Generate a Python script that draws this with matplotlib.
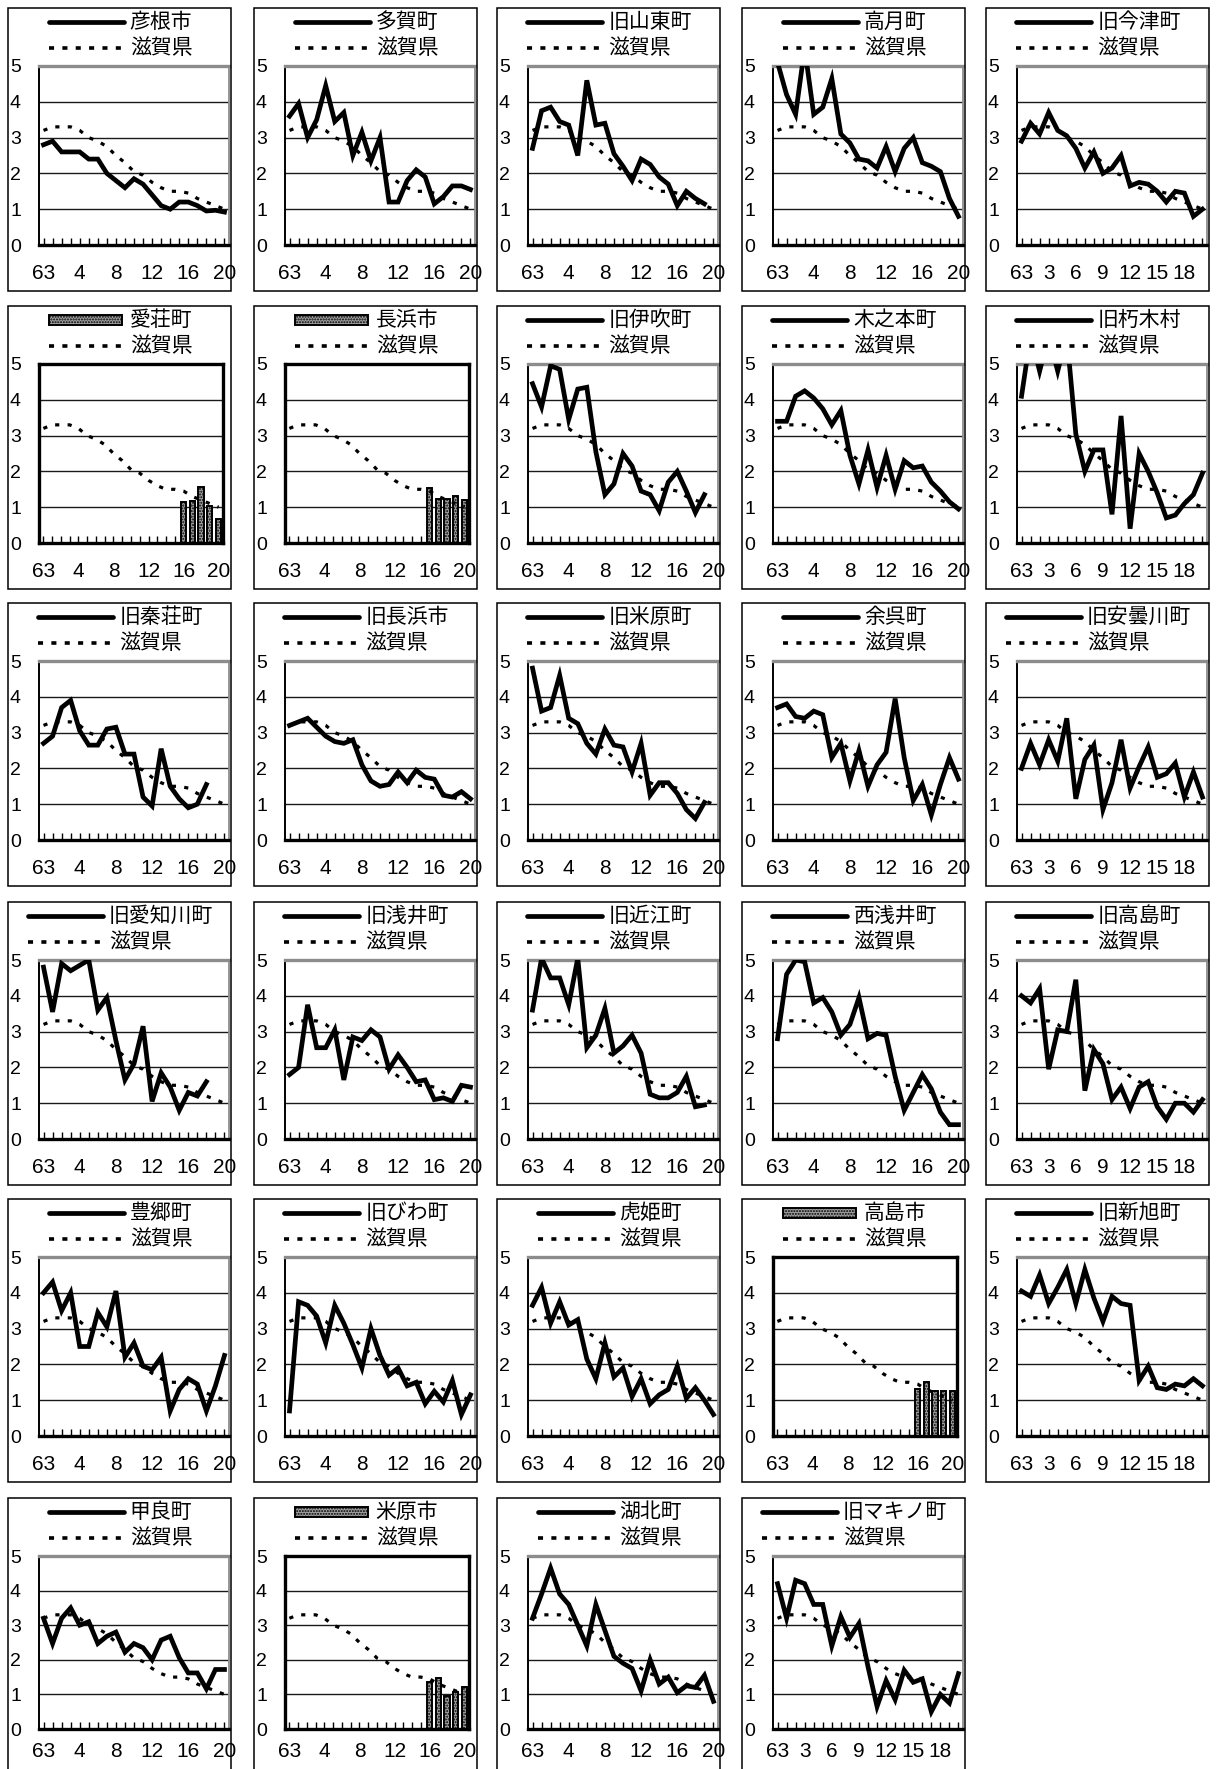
import numpy as np
import matplotlib
matplotlib.use("Agg")
import matplotlib.pyplot as plt
from matplotlib.patches import Rectangle
from matplotlib.lines import Line2D

nan = np.nan

# ---------------- data ----------------
x_all = list(range(21))                      # S63, H1 ... H20
ticks_a = [0, 4, 8, 12, 16, 20]
labels_a = ["63", "4", "8", "12", "16", "20"]
ticks_b = [0, 3, 6, 9, 12, 15, 18]
labels_b = ["63", "3", "6", "9", "12", "15", "18"]
bar_x = [16, 17, 18, 19, 20]

shiga = [3.2, 3.3, 3.3, 3.3, 3.2, 3.0, 2.9, 2.75, 2.5, 2.3, 2.05, 1.95, 1.75,
         1.6, 1.5, 1.5, 1.45, 1.3, 1.2, 1.1, 1.0]

hikone = [2.8, 2.9, 2.6, 2.6, 2.6, 2.4, 2.4, 2.0, 1.8, 1.6, 1.85, 1.7, 1.4, 1.1,
          1.0, 1.2, 1.2, 1.1, 0.95, 0.97, 0.92]
taga = [3.6, 3.95, 3.0, 3.5, 4.45, 3.45, 3.7, 2.5, 3.15, 2.35, 3.0, 1.2, 1.2, 1.8,
        2.1, 1.9, 1.15, 1.35, 1.65, 1.65, 1.55]
santo = [2.7, 3.75, 3.85, 3.45, 3.35, 2.5, 4.6, 3.35, 3.4, 2.55, 2.2, 1.8, 2.4,
         2.25, 1.9, 1.7, 1.1, 1.5, 1.3, 1.15, nan]
takatsuki = [5.1, 4.2, 3.65, 5.5, 3.65, 3.85, 4.65, 3.1, 2.85, 2.4, 2.35, 2.15,
             2.75, 2.05, 2.7, 3.0, 2.3, 2.2, 2.05, 1.3, 0.8]
imazu = [2.9, 3.4, 3.1, 3.7, 3.2, 3.05, 2.7, 2.15, 2.6, 2.0, 2.15, 2.5, 1.65, 1.75,
         1.7, 1.5, 1.2, 1.5, 1.45, 0.8, 1.0]

aisho = [1.15, 1.17, 1.57, 1.02, 0.68]
nagahama = [1.55, 1.23, 1.23, 1.3, 1.2]
ibuki = [4.45, 3.8, 4.95, 4.85, 3.45, 4.3, 4.35, 2.55, 1.35, 1.65, 2.5, 2.15, 1.45,
         1.35, 0.9, 1.7, 2.0, 1.45, 0.85, 1.35, nan]
kinomoto = [3.4, 3.4, 4.1, 4.25, 4.05, 3.75, 3.3, 3.7, 2.45, 1.65, 2.6, 1.55, 2.45,
            1.5, 2.3, 2.1, 2.15, 1.7, 1.45, 1.15, 0.95]
kutsuki = [4.1, 5.8, 4.8, 5.8, 4.8, 5.8, 3.05, 2.0, 2.6, 2.6, 0.8, 3.55, 0.4, 2.5,
           2.0, 1.4, 0.7, 0.78, 1.1, 1.35, 1.95]

hatasho = [2.7, 2.9, 3.7, 3.9, 3.05, 2.65, 2.65, 3.1, 3.15, 2.4, 2.4, 1.2, 0.95,
           2.55, 1.5, 1.15, 0.9, 1.0, 1.55, nan, nan]
nagahama_old = [3.2, 3.3, 3.4, 3.15, 2.9, 2.75, 2.7, 2.8, 2.1, 1.65, 1.5, 1.55, 1.9,
                1.6, 1.95, 1.75, 1.7, 1.25, 1.2, 1.35, 1.15]
maibara_old = [4.8, 3.6, 3.7, 4.6, 3.4, 3.25, 2.7, 2.4, 3.1, 2.65, 2.6, 1.9, 2.7,
               1.25, 1.6, 1.6, 1.3, 0.85, 0.6, 1.05, nan]
yogo = [3.7, 3.8, 3.45, 3.4, 3.6, 3.5, 2.3, 2.7, 1.65, 2.5, 1.5, 2.1, 2.45, 3.95,
        2.3, 1.1, 1.55, 0.7, 1.55, 2.3, 1.7]
adogawa = [2.0, 2.7, 2.1, 2.8, 2.2, 3.4, 1.15, 2.25, 2.65, 0.85, 1.6, 2.8, 1.45,
           2.05, 2.6, 1.75, 1.85, 2.15, 1.2, 1.9, 1.2]

echigawa = [4.8, 3.55, 4.9, 4.7, 4.85, 5.0, 3.6, 3.95, 2.75, 1.65, 2.1, 3.15, 1.05,
            1.85, 1.45, 0.8, 1.3, 1.2, 1.6, nan, nan]
azai = [1.8, 2.0, 3.75, 2.55, 2.55, 3.05, 1.65, 2.85, 2.75, 3.05, 2.85, 1.95, 2.35,
        2.0, 1.6, 1.65, 1.1, 1.15, 1.05, 1.5, 1.45]
omi = [3.6, 5.05, 4.5, 4.5, 3.75, 5.05, 2.55, 2.9, 3.65, 2.4, 2.6, 2.9, 2.4, 1.25,
       1.15, 1.15, 1.3, 1.75, 0.9, 0.95, nan]
nishiazai = [2.8, 4.6, 5.0, 4.95, 3.8, 3.95, 3.55, 2.9, 3.2, 3.95, 2.8, 2.95, 2.9,
             1.75, 0.8, 1.3, 1.8, 1.4, 0.75, 0.4, 0.4]
takashima_old = [4.0, 3.8, 4.2, 1.95, 3.05, 3.0, 4.45, 1.35, 2.5, 2.1, 1.1, 1.45,
                 0.85, 1.45, 1.6, 0.9, 0.55, 1.0, 1.0, 0.75, 1.1]

toyosato = [4.0, 4.3, 3.5, 4.0, 2.5, 2.5, 3.45, 3.05, 4.05, 2.2, 2.6, 1.95, 1.85,
            2.2, 0.7, 1.3, 1.6, 1.45, 0.7, 1.4, 2.25]
biwa = [0.7, 3.75, 3.65, 3.35, 2.6, 3.65, 3.15, 2.55, 1.9, 3.0, 2.25, 1.7, 1.9, 1.4,
        1.5, 0.9, 1.25, 0.95, 1.55, 0.6, 1.15]
torahime = [3.65, 4.15, 3.15, 3.75, 3.1, 3.25, 2.15, 1.6, 2.6, 1.65, 1.9, 1.1, 1.6,
            0.9, 1.15, 1.3, 1.95, 1.05, 1.35, 1.0, 0.6]
takashima = [1.3, 1.5, 1.25, 1.25, 1.27]
shinasahi = [4.05, 3.9, 4.5, 3.7, 4.15, 4.65, 3.7, 4.65, 3.85, 3.2, 3.9, 3.7, 3.65,
             1.55, 1.95, 1.35, 1.3, 1.45, 1.4, 1.6, 1.4]

kora = [3.2, 2.47, 3.2, 3.5, 3.0, 3.1, 2.47, 2.68, 2.8, 2.22, 2.47, 2.35, 2.0, 2.57,
        2.68, 2.06, 1.62, 1.62, 1.16, 1.72, 1.72]
maibara = [1.35, 1.48, 0.95, 1.08, 1.2]
kohoku = [3.2, 3.9, 4.65, 3.9, 3.6, 3.0, 2.4, 3.6, 2.85, 2.1, 1.9, 1.75, 1.1, 2.0,
          1.3, 1.5, 1.05, 1.25, 1.2, 1.55, 0.8]
makino = [4.2, 3.2, 4.3, 4.2, 3.6, 3.6, 2.4, 3.25, 2.65, 3.05, 1.8, 0.65, 1.4, 0.85,
          1.7, 1.35, 1.45, 0.5, 1.0, 0.75, 1.6]

panels = [
    [("彦根市", "line", hikone, "A"), ("多賀町", "line", taga, "A"),
     ("旧山東町", "line", santo, "A"), ("高月町", "line", takatsuki, "A"),
     ("旧今津町", "line", imazu, "B")],
    [("愛荘町", "bar", aisho, "A"), ("長浜市", "bar", nagahama, "A"),
     ("旧伊吹町", "line", ibuki, "A"), ("木之本町", "line", kinomoto, "A"),
     ("旧朽木村", "line", kutsuki, "B")],
    [("旧秦荘町", "line", hatasho, "A"), ("旧長浜市", "line", nagahama_old, "A"),
     ("旧米原町", "line", maibara_old, "A"), ("余呉町", "line", yogo, "A"),
     ("旧安曇川町", "line", adogawa, "B")],
    [("旧愛知川町", "line", echigawa, "A"), ("旧浅井町", "line", azai, "A"),
     ("旧近江町", "line", omi, "A"), ("西浅井町", "line", nishiazai, "A"),
     ("旧高島町", "line", takashima_old, "B")],
    [("豊郷町", "line", toyosato, "A"), ("旧びわ町", "line", biwa, "A"),
     ("虎姫町", "line", torahime, "A"), ("高島市", "bar", takashima, "A"),
     ("旧新旭町", "line", shinasahi, "B")],
    [("甲良町", "line", kora, "A"), ("米原市", "bar", maibara, "A"),
     ("湖北町", "line", kohoku, "A"), ("旧マキノ町", "line", makino, "B")],
]
ref_name = "滋賀県"

# ---------------- layout ----------------
W, H = 1217, 1769
plt.rcParams["font.family"] = ["Liberation Sans", "DejaVu Sans"]
JP = ["Noto Sans CJK JP", "DejaVu Sans"]
fig = plt.figure(figsize=(W / 100, H / 100), dpi=100)

col_left = [8, 254, 497, 742, 986]
row_top = [8, 306, 603, 902, 1199, 1498]
FW, FH = 223, 283
LEG_FS = 15
LEG_PX = LEG_FS * 100 / 72
SOLID_LW = 3.4
DOT_STYLE = dict(color="black", lw=2.3, linestyle=(0, (1.3, 2.6)))
BAR_STYLE = dict(facecolor="#a0a0a0", edgecolor="black", hatch="......", linewidth=1.4)


def fx(px):
    return px / W


def fy(py):
    return 1 - py / H


for r, row in enumerate(panels):
    last = r == len(panels) - 1
    for c, (name, kind, vals, ttype) in enumerate(row):
        fl, ft = col_left[c], row_top[r]
        fb = ft + FH if not last else H + 30
        fig.add_artist(Rectangle((fx(fl), fy(fb)), FW / W, (fb - ft) / H,
                                 transform=fig.transFigure, fill=False,
                                 ec="black", lw=1.1))
        # ---- legend (drawn manually, centred in frame) ----
        nchar = max(len(name), 3)
        tot = 75 + 6 + nchar * LEG_PX
        lx = fl + FW / 2 + 1 - tot / 2
        y1, y2 = ft + 14, ft + 40
        if kind == "line":
            fig.add_artist(Line2D([fx(lx), fx(lx + 75)], [fy(y1), fy(y1)],
                                  transform=fig.transFigure, color="black",
                                  lw=SOLID_LW, solid_capstyle="round"))
        else:
            fig.add_artist(Rectangle((fx(lx), fy(y1 + 5)), 73 / W, 10 / H,
                                     transform=fig.transFigure, **BAR_STYLE))
        fig.add_artist(Line2D([fx(lx), fx(lx + 75)], [fy(y2), fy(y2)],
                              transform=fig.transFigure, color="black", lw=2.6,
                              linestyle=(0, (1.4, 2.3))))
        fig.text(fx(lx + 81), fy(y1), name, family=JP, fontsize=LEG_FS,
                 ha="left", va="center")
        fig.text(fx(lx + 81), fy(y2), ref_name, family=JP, fontsize=LEG_FS,
                 ha="left", va="center")

        # ---- plot area ----
        pl = fl + 31
        pr = fl + (221 if kind == "line" else 215)
        pt = ft + 58
        pb = ft + (231 if last else 237)
        ax = fig.add_axes([fx(pl), fy(pb), (pr - pl) / W, (pb - pt) / H])
        ax.set_xlim(-0.5, 20.5)
        ax.set_ylim(0, 5)
        for g in [1, 2, 3, 4]:
            ax.axhline(g, color="#1a1a1a", lw=1.0, zorder=1)

        if kind == "bar":
            ax.bar(bar_x, vals, width=0.6, zorder=2, **BAR_STYLE)
            for s in ax.spines.values():
                s.set_color("black")
                s.set_linewidth(2.4)
        else:
            ax.spines["top"].set_color("#8c8c8c")
            ax.spines["top"].set_linewidth(2.4)
            ax.spines["right"].set_color("#8c8c8c")
            ax.spines["right"].set_linewidth(1.3)
            ax.spines["left"].set_color("black")
            ax.spines["left"].set_linewidth(1.4)
            ax.spines["bottom"].set_color("black")
            ax.spines["bottom"].set_linewidth(2.4)

        ax.plot(x_all, shiga, zorder=3, **DOT_STYLE)
        if kind == "line":
            ax.plot(x_all, vals, color="black", lw=SOLID_LW, zorder=4,
                    solid_joinstyle="miter")

        tp, tl = (ticks_a, labels_a) if ttype == "A" else (ticks_b, labels_b)
        ax.set_xticks(tp, tl)
        ax.set_xticks(x_all, minor=True)
        ax.tick_params(axis="x", which="both", direction="in", length=5,
                       width=1.0, color="black", labelsize=15,
                       pad=(9 if last else 14))
        ax.set_yticks(range(6))
        ax.set_yticklabels([str(v) for v in range(6)])
        ax.tick_params(axis="y", length=0, labelsize=14, pad=13)
        for lab in ax.get_yticklabels():
            lab.set_horizontalalignment("right")

fig.savefig("out.png", dpi=100)
